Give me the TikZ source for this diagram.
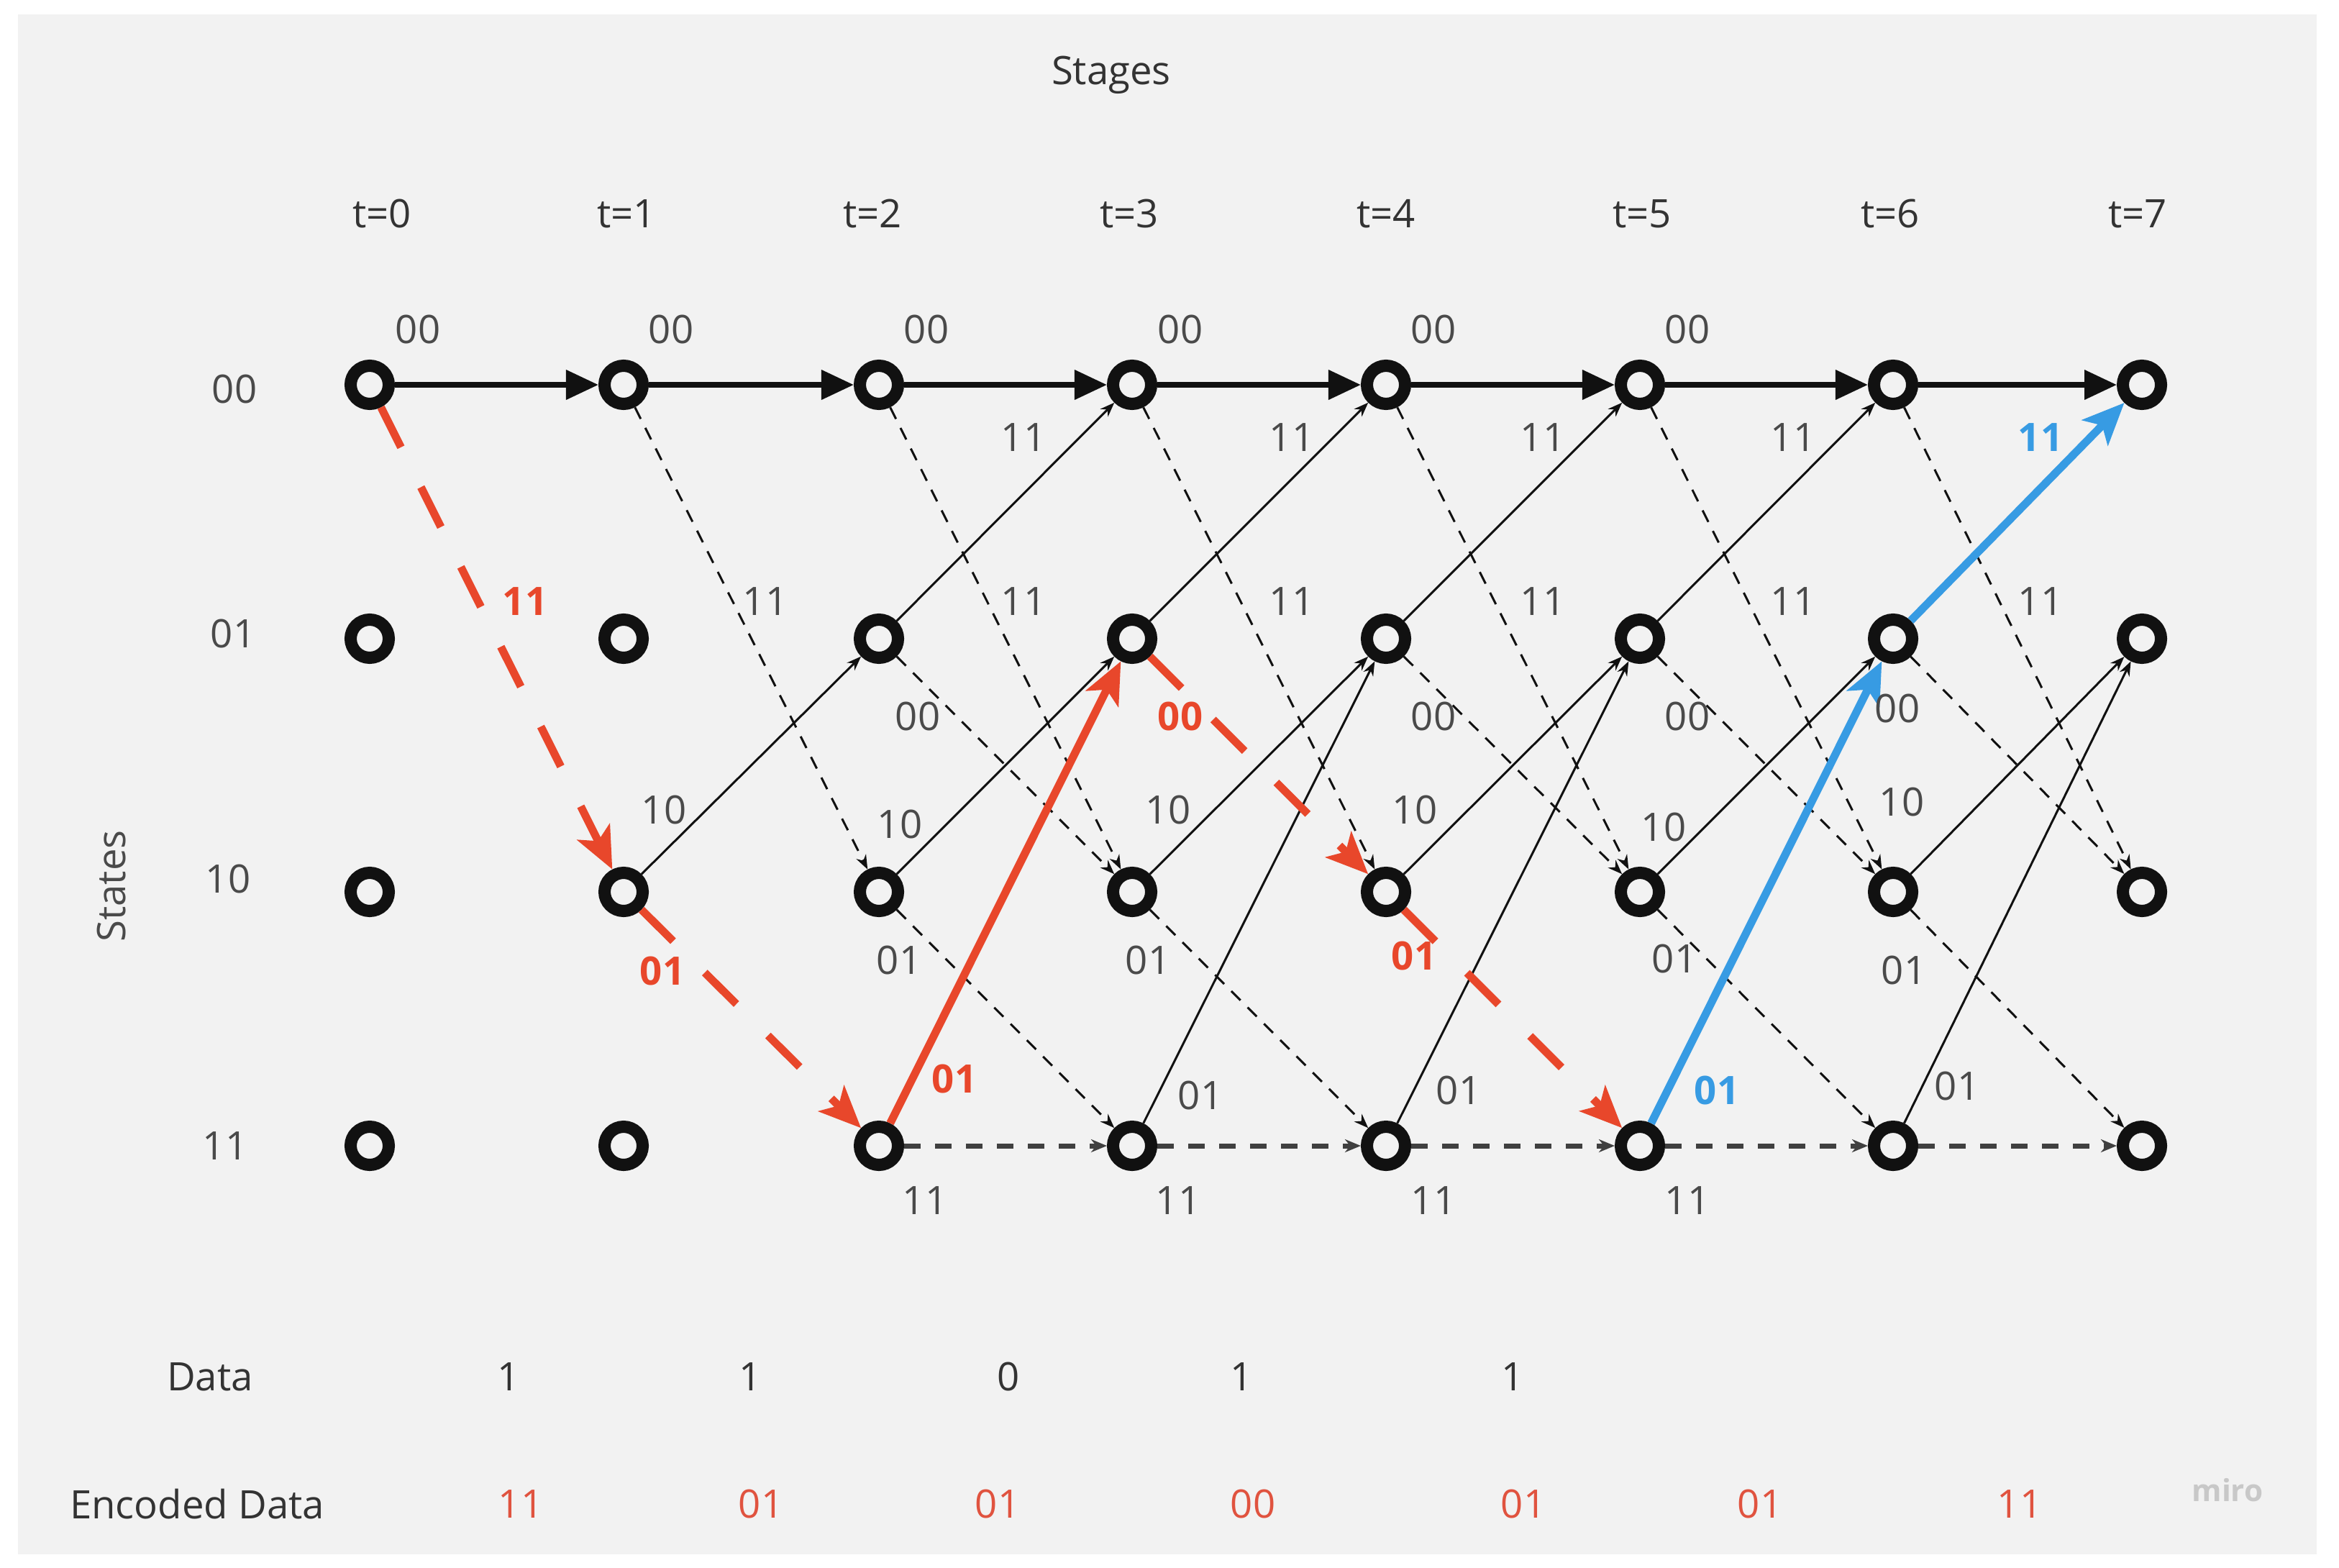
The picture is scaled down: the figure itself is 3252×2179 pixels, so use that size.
\documentclass[tikz,border=0pt]{standalone}
\usepackage{fontspec}
\setmainfont{Open Sans}
\usetikzlibrary{arrows.meta}
\definecolor{bgc}{HTML}{F2F2F2}
\definecolor{nodec}{HTML}{111111}
\definecolor{labc}{HTML}{4A4A4A}
\definecolor{titc}{HTML}{333333}
\definecolor{redc}{HTML}{E8472B}
\definecolor{encc}{HTML}{E0533F}
\definecolor{bluec}{HTML}{379BE3}
\definecolor{botc}{HTML}{404040}
\definecolor{miroc}{HTML}{C8C8C8}
\begin{document}
\begin{tikzpicture}[x=0.01cm,y=-0.01cm,
  font=\fontsize{15.5}{18}\selectfont,
  st/.style={circle, draw=nodec, line width=0.17cm, minimum size=0.53cm, inner sep=0pt},
  lab/.style={text=labc, inner sep=0pt},
  tit/.style={text=titc, inner sep=0pt},
  redlab/.style={text=redc, inner sep=0pt, font=\fontsize{15.5}{18}\selectfont\bfseries},
  bluelab/.style={text=bluec, inner sep=0pt, font=\fontsize{15.5}{18}\selectfont\bfseries},
  enc/.style={text=encc, inner sep=0pt},
  topar/.style={draw=nodec, line width=0.075cm, -{Triangle[length=0.45cm,width=0.4cm]}},
  thinar/.style={draw=nodec, line width=0.03cm, -{Stealth[length=0.2cm,width=0.15cm]}},
  thindash/.style={thinar, dash pattern=on 0.18cm off 0.14cm},
  botdash/.style={draw=botc, line width=0.07cm, dash pattern=on 0.23cm off 0.2cm, -{Stealth[length=0.22cm,width=0.18cm]}},
  redsolid/.style={draw=redc, line width=0.11cm, -{Stealth[length=0.58cm,width=0.5cm,inset=0.14cm]}},
  reddash/.style={redsolid, dash pattern=on 0.62cm off 0.62cm},
  bluesolid/.style={draw=bluec, line width=0.11cm, -{Stealth[length=0.58cm,width=0.5cm,inset=0.14cm]}}
]
\useasboundingbox (0,0) rectangle (3252,2179);
\fill[white] (0,0) rectangle (3252,2179);
\fill[bgc] (25,20) rectangle (3221,2161);

% trellis nodes
\foreach \t/\x in {0/514,1/867,2/1222,3/1574,4/1927,5/2280,6/2632,7/2978}{
  \node[st] (a\t) at (\x,535) {};
  \node[st] (b\t) at (\x,888) {};
  \node[st] (c\t) at (\x,1240) {};
  \node[st] (d\t) at (\x,1593) {};
}

% titles
\node[tit] (stages) at (1545,104) {Stages};
\foreach \t/\x in {0/531,1/871,2/1213,3/1570,4/1927,5/2283,6/2628,7/2972}{
  \node[tit] (tl\t) at (\x,297) {t=\t};
}
\node[lab] (s00) at (326,541) {00};
\node[lab] (s01) at (324,881) {01};
\node[lab] (s10) at (317,1222) {10};
\node[lab] (s11) at (313,1593) {11};
\node[lab, rotate=90] (states) at (155,1232) {States};

% thin black connectors
\foreach \t/\u in {1/2,2/3,3/4,4/5,5/6,6/7}{
  \draw[thindash] (a\t) -- (c\u);
  \draw[thinar] (c\t) -- (b\u);
}
\foreach \t/\u in {2/3,3/4,4/5,5/6}{
  \draw[thinar] (b\t) -- (a\u);
}
\foreach \t/\u in {2/3,4/5,5/6,6/7}{
  \draw[thindash] (b\t) -- (c\u);
}
\foreach \t/\u in {2/3,3/4,5/6,6/7}{
  \draw[thindash] (c\t) -- (d\u);
}
\foreach \t/\u in {3/4,4/5,6/7}{
  \draw[thinar] (d\t) -- (b\u);
}
\foreach \t/\u in {2/3,3/4,4/5,5/6,6/7}{
  \draw[botdash] (d\t) -- (d\u);
}
\foreach \t/\u in {0/1,1/2,2/3,3/4,4/5,5/6,6/7}{
  \draw[topar] (a\t) -- (a\u);
}

% highlighted path
\draw[reddash] (a0) -- (c1);
\draw[reddash] (c1) -- (d2);
\draw[redsolid] (d2) -- (b3);
\draw[reddash] (b3) -- (c4);
\draw[reddash] (c4) -- (d5);
\draw[bluesolid] (d5) -- (b6);
\draw[bluesolid] (b6) -- (a7);

% edge labels
\foreach \x [count=\i] in {581,933,1288,1641,1993,2346}{
  \node[lab] (la\i) at (\x,458) {00};
}
\foreach \x [count=\i] in {1423,1796,2145,2493}{
  \node[lab] (lb\i) at (\x,608) {11};
}
\node[bluelab] (lbb) at (2837,608) {11};
\node[redlab] (lcr) at (730,836) {11};
\foreach \x [count=\i] in {1064,1423,1796,2145,2493,2837}{
  \node[lab] (lc\i) at (\x,836) {11};
}
\node[lab] (ld1) at (1276,996) {00};
\node[redlab] (ldr) at (1641,996) {00};
\node[lab] (ld2) at (1993,996) {00};
\node[lab] (ld3) at (2346,996) {00};
\node[lab] (ld4) at (2638,985) {00};
\node[lab] (le1) at (923,1126) {10};
\node[lab] (le2) at (1251,1146) {10};
\node[lab] (le3) at (1624,1126) {10};
\node[lab] (le4) at (1967,1126) {10};
\node[lab] (le5) at (2313,1150) {10};
\node[lab] (le6) at (2644,1115) {10};
\node[redlab] (lfr1) at (921,1350) {01};
\node[lab] (lf1) at (1250,1335) {01};
\node[lab] (lf2) at (1596,1335) {01};
\node[redlab] (lfr2) at (1966,1329) {01};
\node[lab] (lf3) at (2328,1333) {01};
\node[lab] (lf4) at (2647,1349) {01};
\node[redlab] (lgr) at (1327,1500) {01};
\node[lab] (lg1) at (1669,1523) {01};
\node[lab] (lg2) at (2028,1516) {01};
\node[bluelab] (lgb) at (2387,1516) {01};
\node[lab] (lg3) at (2721,1510) {01};
\foreach \x [count=\i] in {1286,1638,1993,2346}{
  \node[lab] (lh\i) at (\x,1669) {11};
}

% data rows
\node[tit] (data) at (292,1914) {Data};
\foreach \x/\v [count=\i] in {707/1,1043/1,1402/0,1726/1,2103/1}{
  \node[tit] (dv\i) at (\x,1914) {\v};
}
\node[tit] (encd) at (274,2091) {Encoded Data};
\foreach \x/\v [count=\i] in {724/11,1058/01,1387/01,1742/00,2118/01,2447/01,2808/11}{
  \node[enc] (ev\i) at (\x,2091) {\v};
}
\node[text=miroc, inner sep=0pt, font=\fontsize{12}{14}\selectfont\bfseries] (miro) at (3097,2072) {miro};
\end{tikzpicture}
\end{document}
